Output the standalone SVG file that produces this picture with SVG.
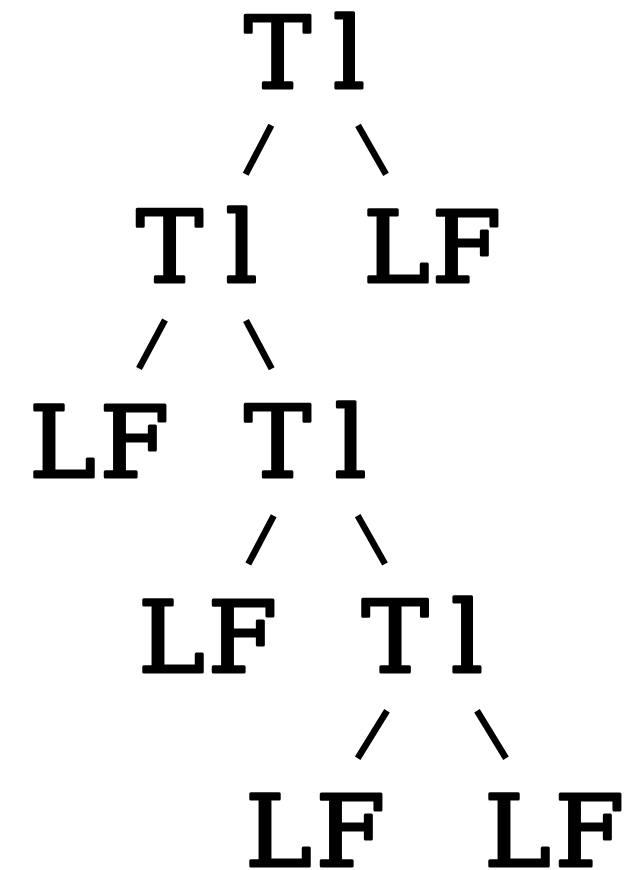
<svg xmlns="http://www.w3.org/2000/svg" width="633" height="870" viewBox="0 0 633 870">
  <style>
    .lbl { font-family: "DejaVu Serif", "Liberation Serif", serif; font-size: 100px; fill: #000; stroke: #000; stroke-width: 3; stroke-linejoin: round; text-anchor: middle; }
    .edge { stroke: #000; stroke-width: 6.5; stroke-linecap: butt; fill: none; }
  </style>
  <rect width="633" height="870" fill="#fff"/>

  <!-- tree edges -->
  <g id="edges">
    <line class="edge" x1="271.3" y1="125.3" x2="245.7" y2="174.3"/>
    <line class="edge" x1="358" y1="125.3" x2="386" y2="174.3"/>
    <line class="edge" x1="165" y1="320" x2="139" y2="368.5"/>
    <line class="edge" x1="246" y1="320.5" x2="271.7" y2="368.7"/>
    <line class="edge" x1="273.7" y1="515.7" x2="248.3" y2="564"/>
    <line class="edge" x1="357.7" y1="515.7" x2="385" y2="564"/>
    <line class="edge" x1="387" y1="710.7" x2="357.7" y2="758.3"/>
    <line class="edge" x1="477" y1="710.7" x2="506" y2="758.3"/>
  </g>

  <!-- nodes -->
  <g id="n-root"><text class="lbl" x="277.5 349" y="88">Tl</text></g>
  <g id="n-l2"><text class="lbl" x="169.5 241.5" y="282">Tl</text></g>
  <g id="n-leaf-a"><text class="lbl" x="396.5 466.5" y="282">LF</text></g>
  <g id="n-leaf-b"><text class="lbl" x="62.5 134.5" y="477">LF</text></g>
  <g id="n-l3"><text class="lbl" x="277.5 350.5" y="477">Tl</text></g>
  <g id="n-leaf-c"><text class="lbl" x="171.5 242.5" y="672">LF</text></g>
  <g id="n-l4"><text class="lbl" x="395 467" y="672">Tl</text></g>
  <g id="n-leaf-d"><text class="lbl" x="278.5 350.5" y="866">LF</text></g>
  <g id="n-leaf-e"><text class="lbl" x="517.5 589.5" y="866">LF</text></g>
</svg>
